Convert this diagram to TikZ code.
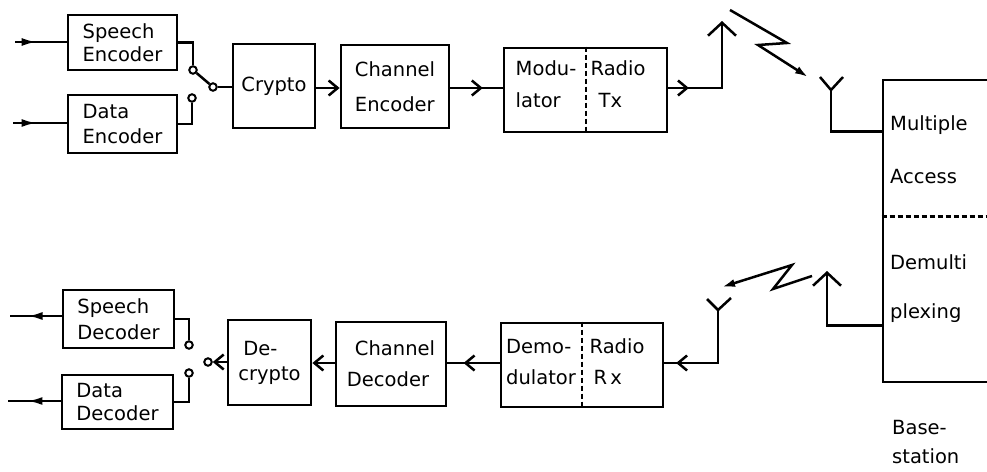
\documentclass[tikz,border=0pt]{standalone}
\usepackage{fontspec}
\setmainfont{DejaVu Sans}
\usetikzlibrary{arrows.meta,decorations.markings,calc}
\begin{document}
\begin{tikzpicture}[x=1pt,y=-1pt,
  txt/.style={inner sep=0pt,align=left,font=\fontsize{19.5}{23}\selectfont},
  box/.style={draw,line width=2.8pt,inner sep=0pt,align=left,font=\fontsize{19.5}{23}\selectfont},
  wire/.style={line width=2.5pt},
  divider/.style={line width=2.5pt,dash pattern=on 5pt off 3pt},
  sw/.style={circle,draw,line width=2pt,minimum size=7.5pt,inner sep=0pt},
  barb/.tip={Straight Barb[length=9pt,width=15pt]},
  bigbarb/.tip={Straight Barb[length=13pt,width=28pt]},
  bolt/.tip={Latex[length=13pt,width=8pt]},
  midarrow/.style={postaction={decorate},decoration={markings,mark=at position #1 with {\arrow{Straight Barb[length=9pt,width=15pt]}}}},
  midfill/.style={postaction={decorate},decoration={markings,mark=at position #1 with {\arrow{Latex[length=15pt,width=8pt]}}}}
]
\useasboundingbox (0,0) rectangle (987,471);
\clip (0,0) rectangle (987,471);

% rows
\coordinate (rowA) at (0,88);
\coordinate (rowB) at (0,363);

% ---------- upper chain ----------
\node[box,minimum width=109pt,minimum height=55pt] (spenc) at (122.5,42.5) {Speech\\Encoder};
\node[box,minimum width=109pt,minimum height=58pt] (daenc) at (122.5,124) {Data\\[2pt]Encoder};
\node[box,minimum width=82pt,minimum height=84pt] (crypto) at (274,86) {Crypto};
\node[box,minimum width=108pt,minimum height=83pt] (chenc) at (395,86.5) {Channel\\[12pt]Encoder};
\node[box,minimum width=163pt,minimum height=84pt] (mod) at (585.5,90) {};
\draw[divider] ($(mod.north west)!0.503!(mod.north east)$) -- ($(mod.south west)!0.503!(mod.south east)$);
\node[txt] (modl) at (546,84) {Modu-\\[9pt]lator};
\node[txt] (modr) at (618,84) {Radio\\[9pt]\hspace{8pt}Tx};

% inputs
\coordinate (inS) at (15,42);
\coordinate (inD) at (13,123);
\draw[wire,midfill=0.42] (inS) -- (spenc.west |- inS);
\draw[wire,midfill=0.44] (inD) -- (daenc.west |- inD);

% switch
\node[sw] (s1) at (193,70) {};
\node[sw] (s2) at (192,98) {};
\node[sw] (s3) at (213,87) {};
\draw[wire] (spenc.east) -| (s1.north);
\draw[wire] (daenc.east) -| (s2.south);
\draw[wire] (s1) -- (s3);
\draw[wire] (s3.east) -- (crypto.west |- s3.east);

\draw[wire,-{barb}] (crypto.east |- rowA) -- (chenc.west |- rowA);
\draw[wire,midarrow=0.62] (chenc.east |- rowA) -- (mod.west |- rowA);

% transmit antenna
\coordinate (a1) at (722,21);
\draw[wire,midarrow=0.17,-{bigbarb}] (mod.east |- rowA) -| (a1);

% lightning 1
\coordinate (l1a) at (730,10);
\coordinate (l1b) at (787,43);
\coordinate (l1c) at (758,45);
\coordinate (l1d) at (808,77);
\draw[wire,-{bolt}] (l1a) -- (l1b) -- (l1c) -- (l1d);

% base station
\node[draw,line width=2.8pt,minimum width=140pt,minimum height=302pt,inner sep=0pt] (base) at (953,231) {};
\draw[divider] ($(base.north west)+(0,138)$) -- ($(base.north east)+(0,138)$);
\node[txt,anchor=west] (t1) at (890,125) {Multiple};
\node[txt,anchor=west] (t2) at (890,177) {Access};
\node[txt,anchor=west] (t3) at (890,262) {Demulti};
\node[txt,anchor=west] (t4) at (890,313) {plexing};
\node[txt,anchor=west] (t5) at (892,442) {Base-\\[6pt]station};

% receive antenna (base)
\coordinate (y1) at (831,90);
\coordinate (y1l) at (820,77);
\coordinate (y1r) at (843,77);
\coordinate (bIn) at ($(base.north west)+(0,53)$);
\draw[wire] (y1l) -- (y1) -- (y1r);
\draw[wire] (y1) |- (bIn);

% transmit antenna (base)
\coordinate (bOut) at ($(base.north west)+(0,247)$);
\coordinate (a2) at (827,271);
\draw[wire,-{bigbarb}] (bOut) -| (a2);

% lightning 2
\coordinate (l2a) at (812,276);
\coordinate (l2b) at (773,289);
\coordinate (l2c) at (792,265);
\coordinate (l2d) at (722,287);
\draw[wire,-{bolt}] (l2a) -- (l2b) -- (l2c) -- (l2d);

% ---------- lower chain ----------
\node[box,minimum width=162pt,minimum height=84pt] (demod) at (582,365) {};
\draw[divider] ($(demod.north west)!0.5!(demod.north east)$) -- ($(demod.south west)!0.5!(demod.south east)$);
\node[txt] (deml) at (541,362) {Demo-\\[8pt]dulator};
\node[txt] (demr) at (617,362) {Radio\\[8pt]\hspace{4pt}R\,x};
\node[box,minimum width=110pt,minimum height=84pt] (chdec) at (391,364) {\hspace{8pt}Channel\\[8pt]Decoder};
\node[box,minimum width=83pt,minimum height=85pt] (decrypt) at (269.5,362.5) {\hspace{5pt}De-\\[2pt]crypto};
\node[box,minimum width=111pt,minimum height=58pt] (spdec) at (118.5,319) {Speech\\[3pt]Decoder};
\node[box,minimum width=111pt,minimum height=54pt] (dadec) at (117.5,402) {Data\\Decoder};

% receive antenna (mobile)
\coordinate (y2) at (718,310);
\coordinate (y2l) at (707,299);
\coordinate (y2r) at (731,298);
\draw[wire] (y2l) -- (y2) -- (y2r);
\draw[wire,midarrow=0.89] (y2) |- (demod.east |- rowB);

\draw[wire,midarrow=0.69] (demod.west |- rowB) -- (chdec.east |- rowB);
\draw[wire,-{barb}] (chdec.west |- rowB) -- (decrypt.east |- rowB);

% receive switch
\node[sw] (s4) at (189,345) {};
\node[sw] (s5) at (189,373) {};
\node[sw] (s6) at (208,362) {};
\draw[wire,-{barb}] (decrypt.west |- s6) -- (s6.east);
\draw[wire] (spdec.east) -| (s4.north);
\draw[wire] (dadec.east) -| (s5.south);

% outputs
\coordinate (outS) at (10,316);
\coordinate (outD) at (8,401);
\draw[wire,midfill=0.66] (spdec.west |- outS) -- (outS);
\draw[wire,midfill=0.63] (dadec.west |- outD) -- (outD);
\end{tikzpicture}
\end{document}
